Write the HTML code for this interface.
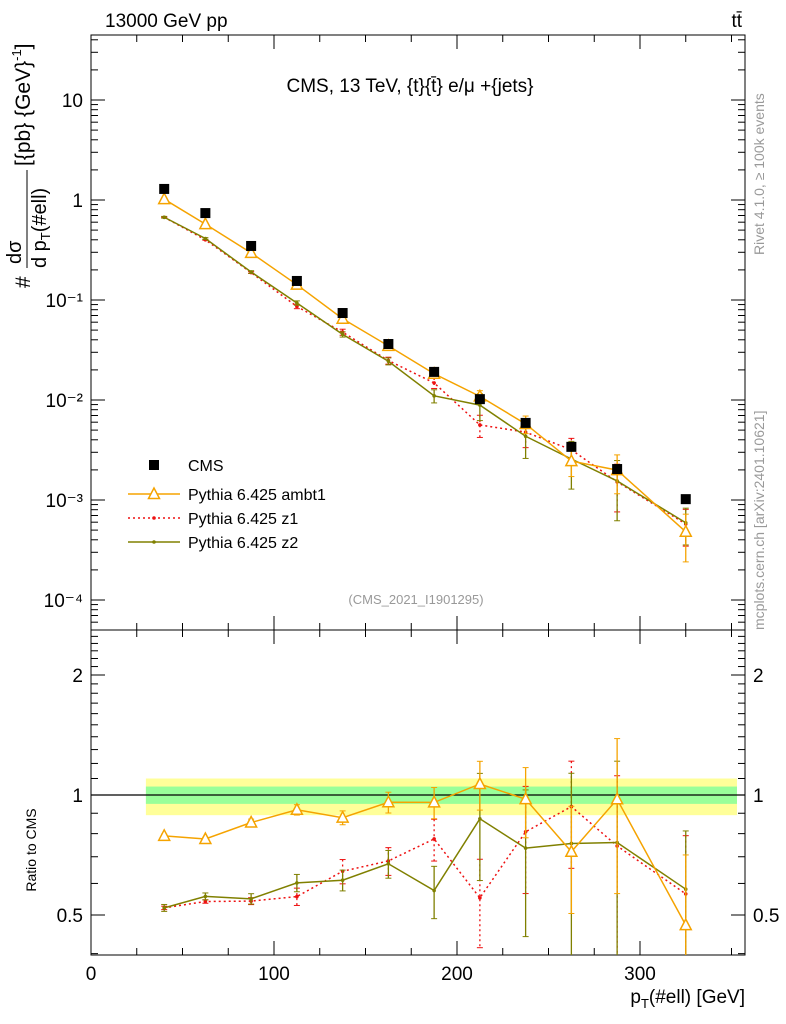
<!DOCTYPE html>
<html><head><meta charset="utf-8"><style>
body{margin:0;background:#fff;}
svg{display:block;font-family:"Liberation Sans",sans-serif;}
</style></head><body>
<svg id="c" width="786" height="1024" viewBox="0 0 786 1024">
<defs>
<clipPath id="cm"><rect x="91" y="35" width="654" height="595"/></clipPath>
<clipPath id="cr"><rect x="91" y="630" width="654" height="325"/></clipPath>
</defs>
<text x="105" y="27" font-size="19">13000 GeV pp</text>
<text x="742" y="27" font-size="19" text-anchor="end">tt̄</text>
<text x="410" y="92" font-size="19" text-anchor="middle">CMS, 13 TeV, {t}{t̄} e/μ +{jets}</text>
<text x="416" y="604" font-size="13" fill="#999" text-anchor="middle">(CMS_2021_I1901295)</text>
<text transform="translate(764,255) rotate(-90)" font-size="14" fill="#999">Rivet 4.1.0, ≥ 100k events</text>
<text transform="translate(764,630) rotate(-90)" font-size="14" fill="#999">mcplots.cern.ch [arXiv:2401.10621]</text>
<g transform="translate(30,288) rotate(-90)">
<text x="0" y="0" font-size="21">#</text>
<text x="24" y="-9" font-size="20">dσ</text>
<line x1="20" y1="-3" x2="118" y2="-3" stroke="#000" stroke-width="1"/>
<text x="20" y="16" font-size="20">d p<tspan font-size="13" dy="4">T</tspan><tspan dy="-4">(#ell)</tspan></text>
<text x="122" y="0" font-size="21">[{pb} {GeV}<tspan font-size="13" dy="-9">-1</tspan><tspan dy="9">]</tspan></text>
</g>
<text transform="translate(36,850) rotate(-90)" font-size="14" text-anchor="middle">Ratio to CMS</text>
<text x="745" y="1003" font-size="19" text-anchor="end">p<tspan font-size="13" dy="5">T</tspan><tspan dy="-5">(#ell) [GeV]</tspan></text>
</svg>
<script>
const xs=[40,62.5,87.5,112.5,137.5,162.5,187.5,212.5,237.5,262.5,287.5,325];
const cms=[1.29,0.74,0.347,0.155,0.0741,0.0363,0.0191,0.0102,0.0059,0.0034,0.00204,0.00102];
const ambt1=[1.019,0.574,0.296,0.1423,0.0650,0.0348,0.0183,0.01087,0.00576,0.00245,0.00199,0.000481];
const z1=[0.672,0.400,0.188,0.0862,0.0477,0.0248,0.01482,0.00563,0.00477,0.00318,0.00152,0.000576];
const z2=[0.672,0.412,0.1905,0.0933,0.0453,0.0244,0.0110,0.00889,0.00434,0.00257,0.00155,0.000592];
const errAmbt1=[0.01,0.01,0.02,0.03,0.04,0.06,0.09,0.14,0.2,0.3,0.42,0.5];
const errZ1=[0.01,0.01,0.02,0.05,0.07,0.08,0.12,0.25,0.3,0.3,0.5,0.4];
const errZ2=[0.02,0.02,0.03,0.05,0.06,0.08,0.15,0.3,0.4,0.5,0.6,0.4];
const bandX=[30,353];
const bandInner=[0.95,1.05];
const bandOuter=[0.89,1.10];
const xTicks=[0,100,200,300];
const yTicks=[-4,-3,-2,-1,0,1];
const yTickLabels=["10⁻⁴","10⁻³","10⁻²","10⁻¹","1","10"];
const rTicks=[0.5,1,2];

const NS="http://www.w3.org/2000/svg";
const svg=document.getElementById('c');
const L=91,R=745,T=35,MB=630,RB=955;
const X=v=>L+v*1.83;
const Y=v=>200-100*Math.log10(v);
const RY=v=>795-120*Math.log2(v);
function el(tag,attrs,parent){const e=document.createElementNS(NS,tag);for(const k in attrs)e.setAttribute(k,attrs[k]);(parent||svg).appendChild(e);return e;}

let g=el('g',{});


el('rect',{x:X(bandX[0]),y:RY(bandOuter[1]),width:X(bandX[1])-X(bandX[0]),height:RY(bandOuter[0])-RY(bandOuter[1]),fill:'#ffff99'},g);
el('rect',{x:X(bandX[0]),y:RY(bandInner[1]),width:X(bandX[1])-X(bandX[0]),height:RY(bandInner[0])-RY(bandInner[1]),fill:'#99ff99'},g);
let one=el('line',{x1:L,x2:R,y1:RY(1),y2:RY(1),stroke:'#000','stroke-width':1.2});



let f1=el('rect',{x:L,y:T,width:R-L,height:MB-T,fill:'none',stroke:'#000','stroke-width':1});


let f2=el('rect',{x:L,y:MB,width:R-L,height:RB-MB,fill:'none',stroke:'#000','stroke-width':1});



for(let v=0;v<=350;v+=25){const big=v%100===0;const len=big?14:7;
 [[MB,-1],[T,1],[RB,-1],[MB,1]].forEach(([y0,d])=>el('line',{x1:X(v),x2:X(v),y1:y0,y2:y0+d*len,stroke:'#000'}));}
xTicks.forEach(v=>{const t=el('text',{x:X(v),y:980,'font-size':19,'text-anchor':'middle'});t.textContent=v;
 
 });
for(let e=-5;e<=1;e++)for(let m=1;m<10;m++){const v=m*Math.pow(10,e);const y=Y(v);if(y<T||y>MB)continue;const len=m===1?14:7;
 el('line',{x1:L,x2:L+len,y1:y,y2:y,stroke:'#000'});el('line',{x1:R,x2:R-len,y1:y,y2:y,stroke:'#000'});}
yTicks.forEach((e,i)=>{const t=el('text',{x:L-8,y:Y(Math.pow(10,e))+7,'font-size':19,'text-anchor':'end'});t.textContent=yTickLabels[i];
 
 });
for(let v=0.4;v<=2.6;v+=0.1){const y=RY(v);if(y<MB||y>RB)continue;const big=[0.5,1,2].some(k=>Math.abs(k-v)<1e-6);const len=big?14:7;
 el('line',{x1:L,x2:L+len,y1:y,y2:y,stroke:'#000'});el('line',{x1:R,x2:R-len,y1:y,y2:y,stroke:'#000'});}
rTicks.forEach(v=>{[[L-8,'end'],[R+8,'start']].forEach(([x,a])=>{const t=el('text',{x:x,y:RY(v)+7,'font-size':19,'text-anchor':a});t.textContent=v;
 
 });});

function series(name,vals,errs,color,dash,marker){
 const g=el('g',{});
 
 
 const gm=el('g',{'clip-path':'url(#cm)'},g), gr=el('g',{'clip-path':'url(#cr)'},g);
 const pm=xs.map((x,i)=>X(x)+','+Y(vals[i])).join(' ');
 const pr=xs.map((x,i)=>X(x)+','+RY(vals[i]/cms[i])).join(' ');
 el('polyline',{points:pm,fill:'none',stroke:color,'stroke-width':1.5,'stroke-dasharray':dash},gm);
 el('polyline',{points:pr,fill:'none',stroke:color,'stroke-width':1.5,'stroke-dasharray':dash},gr);
 xs.forEach((x,i)=>{const px=X(x);
  [[Y,vals[i],gm],[RY,vals[i]/cms[i],gr]].forEach(([F,v,pg])=>{
   const y1=F(v*(1+errs[i])),y2=F(Math.max(v*(1-errs[i]),v*0.05));
   el('line',{x1:px,x2:px,y1:y1,y2:y2,stroke:color,'stroke-width':1.3,'stroke-dasharray':dash},pg);
   el('line',{x1:px-3,x2:px+3,y1:y1,y2:y1,stroke:color},pg);el('line',{x1:px-3,x2:px+3,y1:y2,y2:y2,stroke:color},pg);
   const py=F(v);
   if(marker==='tri')el('polygon',{points:`${px},${py-6} ${px-5.5},${py+4.5} ${px+5.5},${py+4.5}`,fill:'#fff',stroke:color,'stroke-width':1.5},pg);
   else el('circle',{cx:px,cy:py,r:1.8,fill:color},pg);
  });
 });
}
series('pythia-z1',z1,errZ1,'#ee1111','2,3','dot');
series('pythia-z2',z2,errZ2,'#808000','','dot');
series('pythia-ambt1',ambt1,errAmbt1,'#f5a300','','tri');
let cg=el('g',{});


xs.forEach((x,i)=>el('rect',{x:X(x)-5,y:Y(cms[i])-5,width:10,height:10,fill:'#000'},cg));

const lg=el('g',{});


el('rect',{x:149,y:460,width:10,height:10,fill:'#000'},lg);
[[494,'#f5a300','','tri','Pythia 6.425 ambt1'],[518,'#ee1111','2,3','dot','Pythia 6.425 z1'],[542,'#808000','','dot','Pythia 6.425 z2']].forEach(r=>{
 el('line',{x1:128,x2:180,y1:r[0],y2:r[0],stroke:r[1],'stroke-width':1.5,'stroke-dasharray':r[2]},lg);
 if(r[3]==='tri')el('polygon',{points:`154,${r[0]-6} 148.5,${r[0]+4.5} 159.5,${r[0]+4.5}`,fill:'#fff',stroke:r[1],'stroke-width':1.5},lg);
 else el('circle',{cx:154,cy:r[0],r:1.8,fill:r[1]},lg);
 const t=el('text',{x:188,y:r[0]+6,'font-size':16},lg);t.textContent=r[4];});
const ct=el('text',{x:188,y:471,'font-size':16},lg);ct.textContent='CMS';
</script>
</body></html>
